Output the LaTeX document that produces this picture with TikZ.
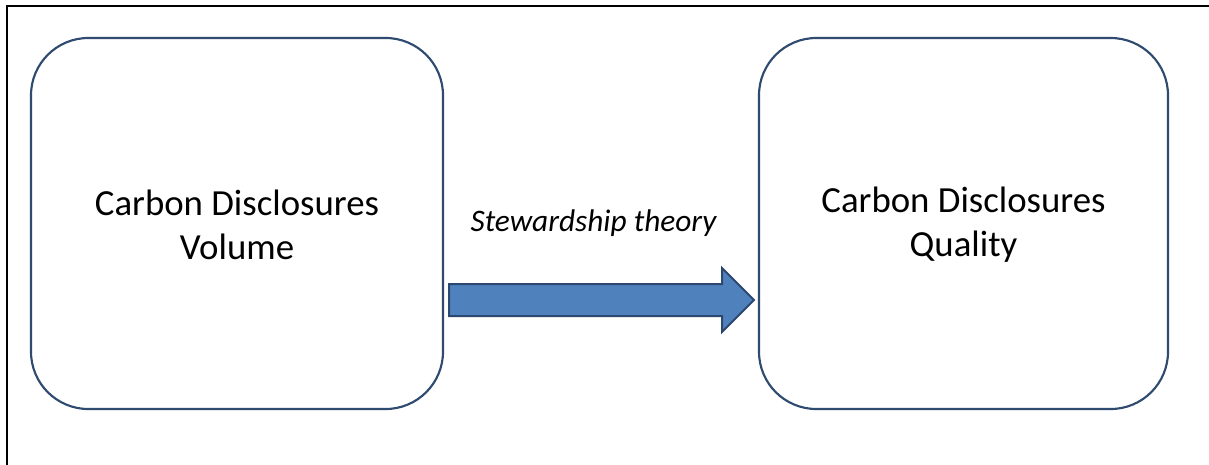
\documentclass[tikz,border=0pt]{standalone}
\usepackage{fontspec}
\setmainfont{Carlito}
\definecolor{boxline}{HTML}{2F4B70}
\definecolor{arrowfill}{HTML}{4F81BD}
\definecolor{arrowline}{HTML}{2C4770}
\begin{document}
\begin{tikzpicture}[x=0.75pt,y=-0.75pt,
  conceptbox/.style={draw=boxline, line width=1.6pt, rounded corners=43pt},
  conceptlabel/.style={align=center, font=\fontsize{27.6}{33}\selectfont, inner sep=0pt},
  theorylabel/.style={font=\fontsize{23.5}{28}\selectfont\itshape, inner sep=0pt},
  blockarrow/.style={fill=arrowfill, draw=arrowline, line width=1.5pt, line join=miter}]
\useasboundingbox (0,0) rectangle (1209,464);
\fill[white] (0,0) rectangle (1209,464);
\draw[black, line width=1.3pt] (7,6) rectangle (1230,490);
\draw[conceptbox] (31,38) rectangle (443,409);
\draw[conceptbox] (759,38) rectangle (1168,409);
\node[conceptlabel] (vol) at (237,225) {Carbon Disclosures\\Volume};
\node[conceptlabel] (qual) at (963.5,225) {Carbon Disclosures\\Quality};
\node[theorylabel, anchor=base] (theory) at (593.5,231) {Stewardship theory};
\draw[blockarrow] (449,284) -- (722,284) -- (722,268) -- (754,300) -- (722,332) -- (722,316) -- (449,316) -- cycle;
\end{tikzpicture}
\end{document}
